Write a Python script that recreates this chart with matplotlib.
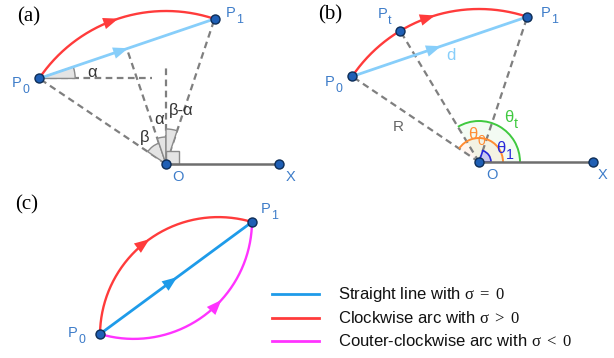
import numpy as np
import matplotlib.pyplot as plt
from matplotlib.patches import Wedge, Polygon, Arc

plt.rcParams['font.family'] = ['Liberation Sans', 'DejaVu Sans']
plt.rcParams['mathtext.fontset'] = 'custom'
plt.rcParams['mathtext.rm'] = 'Liberation Serif'
plt.rcParams['mathtext.it'] = 'Liberation Serif:italic'
plt.rcParams['mathtext.default'] = 'rm'

# panel (a): centre O, end of x-axis X, radius, polar angles (deg) of P0 and P1
a_O = (166, 194)
a_X = (279, 194)
a_R = 153
a_ang = [146, 71.5]

# panel (b): same geometry plus intermediate point Pt
b_O = (479, 196)
b_X = (593, 196)
b_R = 153
b_ang = [146, 71.6]
b_ang_t = 121

# panel (c): start / end point, sagitta of the two arcs
c_P0 = (100, 24)
c_P1 = (252, 136)
c_sag = [47, -47]

legend_labels = [r'Straight line with $\sigma\ =\ 0$',
                 r'Clockwise arc with $\sigma\ >\ 0$',
                 r'Couter-clockwise arc with $\sigma\ <\ 0$']

RED = '#ff3b3b'
LBLUE = '#87cefa'
BLUE = '#1e9be9'
MAG = '#ff33ff'
GREY = '#7f7f7f'
DOT = '#1f5fb5'
DOTE = '#0d2d57'
LAB = '#3d7cc9'
GREEN = '#3fc93f'
ORANGE = '#ff8c33'
TBLUE = '#2626d9'
legend_colors = [BLUE, RED, MAG]


def polar(O, R, deg):
    t = np.radians(deg)
    return np.array([O[0] + R * np.cos(t), O[1] + R * np.sin(t)])


def arc_pts(O, R, d0, d1, n=200):
    t = np.radians(np.linspace(d0, d1, n))
    return np.column_stack([O[0] + R * np.cos(t), O[1] + R * np.sin(t)])


def sag_arc(p0, p1, s, n=200):
    p0, p1 = np.array(p0, float), np.array(p1, float)
    m = (p0 + p1) / 2
    d = p1 - p0
    c = np.hypot(*d)
    nrm = np.array([-d[1], d[0]]) / c
    R = ((c / 2) ** 2 + s ** 2) / (2 * abs(s))
    C = m + nrm * (s - np.sign(s) * R)
    a0 = np.arctan2(*(p0 - C)[::-1])
    a1 = np.arctan2(*(p1 - C)[::-1])
    da = (a1 - a0 + np.pi) % (2 * np.pi) - np.pi
    t = a0 + np.linspace(0, 1, n) * da
    return np.column_stack([C[0] + R * np.cos(t), C[1] + R * np.sin(t)])


def arrow(ax, pts, frac, color):
    i = int(frac * (len(pts) - 1))
    ax.annotate('', xy=pts[i + 2], xytext=pts[i - 2],
                arrowprops=dict(arrowstyle='-|>,head_length=0.9,head_width=0.35',
                                color=color, lw=0, mutation_scale=12,
                                shrinkA=0, shrinkB=0), zorder=6)


def dashed(ax, p, q):
    ax.plot([p[0], q[0]], [p[1], q[1]], color=GREY, lw=1.6,
            ls=(0, (3, 2)), zorder=2)


def dot(ax, p):
    ax.plot(p[0], p[1], 'o', ms=6.5, mfc=DOT, mec=DOTE, mew=1, zorder=8)


def wedge(ax, O, r, t1, t2):
    ax.add_patch(Wedge(O, r, t1, t2, fc='#e4e4e4', ec='#8a8a8a', lw=1, zorder=3))


def label(ax, x, y, main, sub, color, fs=10.5, drop=6):
    # main letter with a large, low subscript (baseline coordinates)
    t = ax.text(x, y, main, color=color, fontsize=fs, va='baseline', zorder=9)
    w = t.get_window_extent(renderer).width
    ax.text(x + w + 0.5, y - drop, sub, color=color, fontsize=fs * 0.85,
            va='baseline', zorder=9)


fig = plt.figure(figsize=(6.14, 3.58), dpi=100)
ax = fig.add_axes([0, 0, 1, 1])
ax.set_xlim(0, 614)
ax.set_ylim(0, 358)
ax.axis('off')
renderer = fig.canvas.get_renderer()

# ---------------- (a) ----------------
P0 = polar(a_O, a_R, a_ang[0])
P1 = polar(a_O, a_R, a_ang[1])
M = (P0 + P1) / 2
alpha = np.degrees(np.arctan2(P1[1] - P0[1], P1[0] - P0[0]))
mid_ang = 90 + alpha

dashed(ax, P0, (152, P0[1]))
dashed(ax, a_O, (a_O[0], 290))
dashed(ax, a_O, P0)
dashed(ax, a_O, P1)
dashed(ax, a_O, M)
wedge(ax, P0, 36, 0, alpha)
wedge(ax, a_O, 22, mid_ang, a_ang[0])
wedge(ax, a_O, 27, 90, mid_ang)
wedge(ax, a_O, 35, a_ang[1], 90)
ax.add_patch(Polygon([a_O, (a_O[0] + 13, a_O[1]), (a_O[0] + 13, a_O[1] + 13),
                      (a_O[0], a_O[1] + 13)], fc='#e4e4e4', ec='#8a8a8a', lw=1, zorder=3))
ax.plot([a_O[0], a_X[0]], [a_O[1], a_X[1]], color='#6e6e6e', lw=1.8, zorder=4)

arc = arc_pts(a_O, a_R, a_ang[0], a_ang[1])
ax.plot(arc[:, 0], arc[:, 1], color=RED, lw=1.7, zorder=5)
arrow(ax, arc, 0.5, RED)
chord = np.linspace(P0, P1, 200)
ax.plot(chord[:, 0], chord[:, 1], color=LBLUE, lw=2, zorder=5)
arrow(ax, chord, 0.5, LBLUE)
for p in (P0, P1, a_O, a_X):
    dot(ax, p)

ax.text(17, 341, '(a)', family='Liberation Serif', fontsize=15, va='center')
label(ax, 12, 271, 'P', '0', LAB)
label(ax, 226, 341, 'P', '1', LAB)
ax.text(172, 177, 'O', color=LAB, fontsize=10.5, va='baseline')
ax.text(286, 177, 'X', color=LAB, fontsize=10.5, va='baseline')
ax.text(92, 285.5, 'α', color='#333333', fontsize=12, va='center', ha='center')
ax.text(145, 220.5, 'β', color='#333333', fontsize=12, va='center', ha='center')
ax.text(159, 239, 'α', color='#333333', fontsize=12, va='center', ha='center')
ax.text(181, 247, 'β-α', color='#333333', fontsize=12, va='center', ha='center')

# ---------------- (b) ----------------
Q0 = polar(b_O, b_R, b_ang[0])
Q1 = polar(b_O, b_R, b_ang[1])
Qt = polar(b_O, b_R, b_ang_t)

ax.add_patch(Wedge(b_O, 41, 0, b_ang_t, fc=GREEN, alpha=0.06, lw=0, zorder=2))
ax.add_patch(Arc(b_O, 82, 82, theta1=0, theta2=b_ang_t, color=GREEN, lw=1.4, zorder=3))
ax.add_patch(Wedge(b_O, 24, 0, b_ang[0], fc=ORANGE, alpha=0.08, lw=0, zorder=2))
ax.add_patch(Arc(b_O, 48, 48, theta1=0, theta2=b_ang[0], color=ORANGE, lw=1.4, zorder=3))
ax.add_patch(Wedge(b_O, 12, 0, b_ang[1], fc='#c8c8f0', ec=TBLUE, lw=1.2, zorder=3))
dashed(ax, b_O, Q0)
dashed(ax, b_O, Qt)
dashed(ax, b_O, Q1)
ax.plot([b_O[0], b_X[0]], [b_O[1], b_X[1]], color='#6e6e6e', lw=1.8, zorder=4)

arc = arc_pts(b_O, b_R, b_ang[0], b_ang[1])
ax.plot(arc[:, 0], arc[:, 1], color=RED, lw=1.7, zorder=5)
arrow(ax, arc, 0.52, RED)
chord = np.linspace(Q0, Q1, 200)
ax.plot(chord[:, 0], chord[:, 1], color=LBLUE, lw=2, zorder=5)
arrow(ax, chord, 0.5, LBLUE)
for p in (Q0, Qt, Q1, b_O, b_X):
    dot(ax, p)

ax.text(318, 343, '(b)', family='Liberation Serif', fontsize=15, va='center')
label(ax, 325, 272, 'P', '0', LAB)
label(ax, 378, 340, 'P', 't', LAB)
label(ax, 541, 341, 'P', '1', LAB)
ax.text(486, 179, 'O', color=LAB, fontsize=10.5, va='baseline')
ax.text(598, 179, 'X', color=LAB, fontsize=10.5, va='baseline')
ax.text(451, 303, 'd', color=LBLUE, fontsize=12, va='center', ha='center')
ax.text(398, 231, 'R', color='#666666', fontsize=11, va='center', ha='center')
label(ax, 504, 236, 'θ', 't', GREEN, fs=12)
label(ax, 468, 219, 'θ', '0', ORANGE, fs=12)
label(ax, 496, 205, 'θ', '1', TBLUE, fs=12)

# ---------------- (c) ----------------
red_arc = sag_arc(c_P0, c_P1, c_sag[0])
mag_arc = sag_arc(c_P0, c_P1, c_sag[1])
ax.plot(red_arc[:, 0], red_arc[:, 1], color=RED, lw=1.7, zorder=5)
ax.plot(mag_arc[:, 0], mag_arc[:, 1], color=MAG, lw=1.7, zorder=5)
arrow(ax, red_arc, 0.5, RED)
arrow(ax, mag_arc, 0.6, MAG)
chord = np.linspace(c_P0, c_P1, 200)
ax.plot(chord[:, 0], chord[:, 1], color=BLUE, lw=2, zorder=5)
arrow(ax, chord, 0.5, BLUE)
dot(ax, c_P0)
dot(ax, c_P1)

ax.text(15, 153, '(c)', family='Liberation Serif', fontsize=15, va='center')
label(ax, 68, 21, 'P', '0', LAB)
label(ax, 261, 145, 'P', '1', LAB)

# legend
leg_y = [64, 40, 17]
for y, lab, col in zip(leg_y, legend_labels, legend_colors):
    ax.plot([272, 319], [y, y], color=col, lw=2)
    ax.text(338, y, lab, fontsize=12, va='center', color='#111111')

fig.savefig('out.png', dpi=100)
